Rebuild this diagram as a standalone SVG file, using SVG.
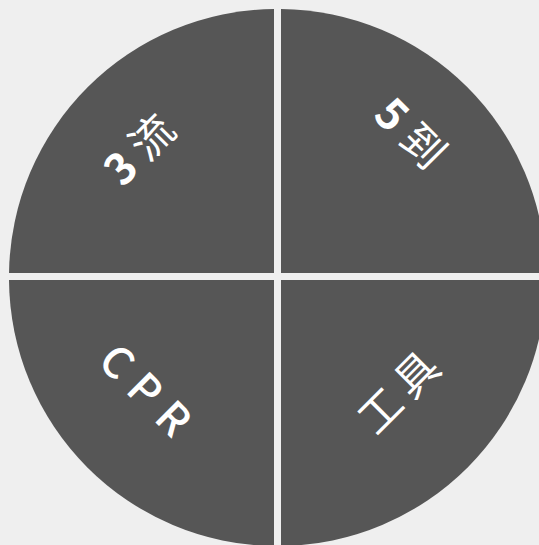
<svg xmlns="http://www.w3.org/2000/svg" width="539" height="545" viewBox="0 0 539 545">
<style>
.q{fill:#565656}
.lbl{fill:#ffffff;font-family:"Noto Sans CJK SC","Noto Sans",sans-serif;font-size:43px;text-anchor:middle;dominant-baseline:central}
.num{font-weight:bold}
</style>
<rect x="0" y="0" width="539" height="545" fill="#efefef"/>
<g id="q-topleft"><path class="q" d="M274,273 L274,9.0 A268,268 0 0 0 9,273 Z"/>
<text class="lbl" transform="translate(137,147) rotate(-45)"><tspan class="num">3</tspan><tspan dx="10">流</tspan></text></g>
<g id="q-topright"><path class="q" d="M281,273 L281,9.0 A268,268 0 0 1 546,273 Z"/>
<text class="lbl" transform="translate(413,131) rotate(45)"><tspan class="num">5</tspan><tspan dx="10">到</tspan></text></g>
<g id="q-bottomleft"><path class="q" d="M274,280 L274,546 A268,268 0 0 1 9,280 Z"/>
<text class="lbl" transform="translate(152,392) rotate(45)" letter-spacing="12" font-weight="500">CPR</text></g>
<g id="q-bottomright"><path class="q" d="M281,280 L281,546 A268,268 0 0 0 546,280 Z"/>
<text class="lbl" transform="translate(396,390) rotate(-45)"><tspan>工</tspan><tspan dx="8">具</tspan></text></g>
<g id="connectors"></g>
</svg>
